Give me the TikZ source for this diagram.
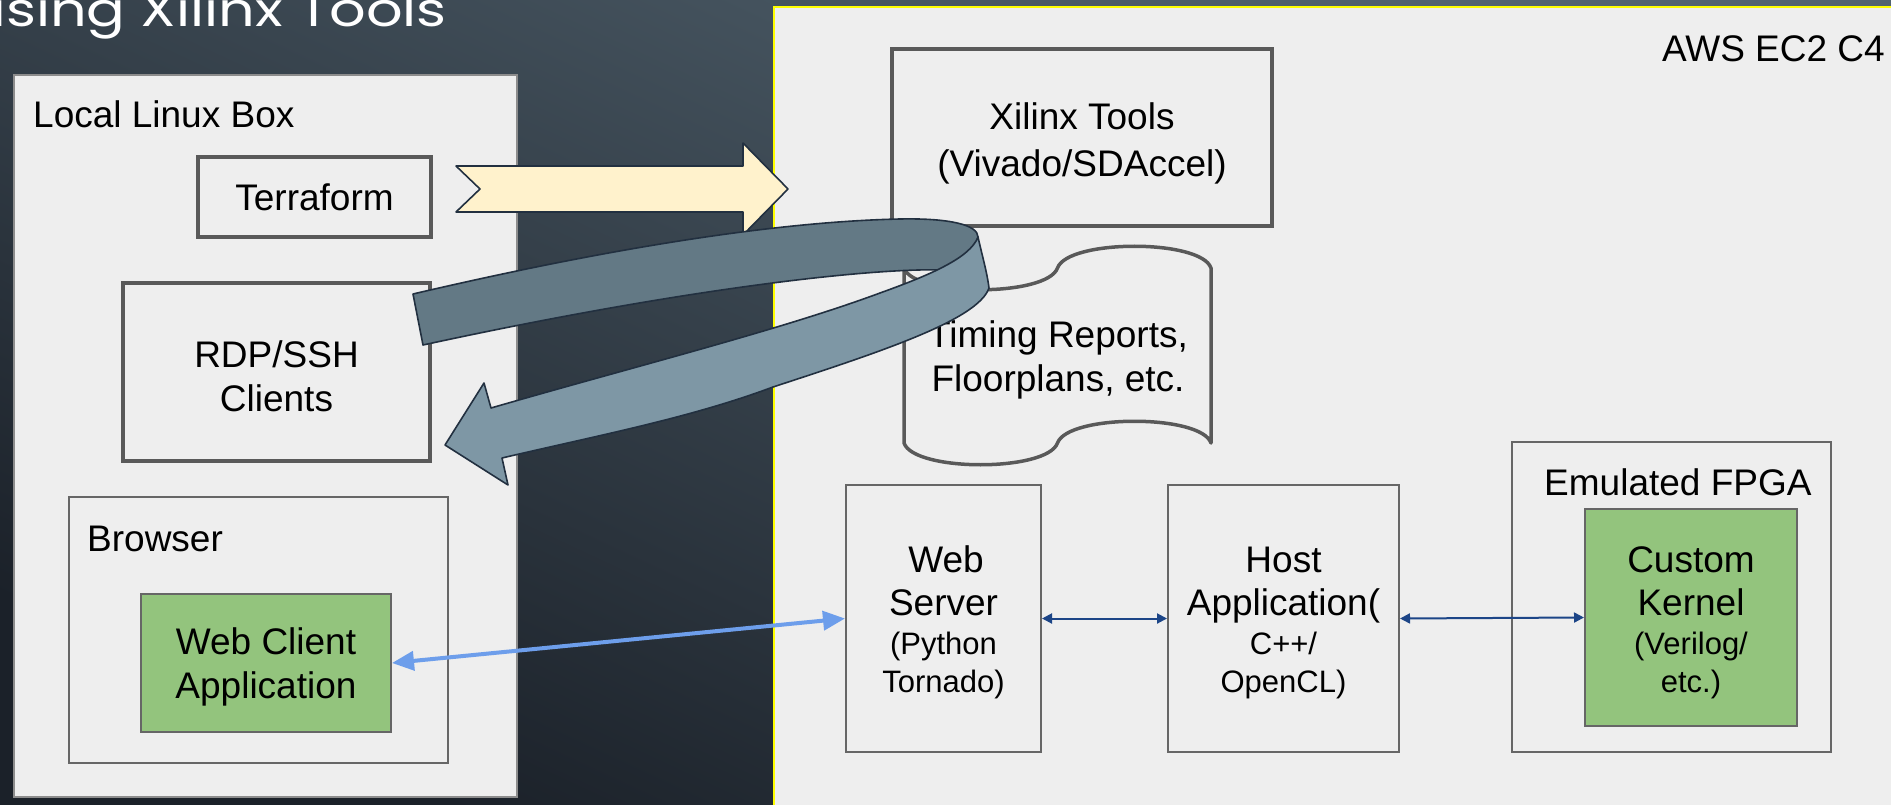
\documentclass[tikz,border=0pt]{standalone}
\usepackage{fontspec}
\setmainfont{Liberation Sans}
\newfontfamily\titlefont{Poppins}[FakeStretch=1.22]
\usetikzlibrary{arrows.meta}
\definecolor{bgtop}{HTML}{52636F}
\definecolor{bgbot}{HTML}{1B2129}
\definecolor{panel}{HTML}{EEEEEE}
\definecolor{bordgray}{HTML}{595959}
\definecolor{thingray}{HTML}{666666}
\definecolor{outergray}{HTML}{8C8C8C}
\definecolor{yel}{HTML}{FFFF00}
\definecolor{greenfill}{HTML}{93C47D}
\definecolor{cream}{HTML}{FFF2CC}
\definecolor{arrowline}{HTML}{223040}
\definecolor{banddark}{HTML}{637985}
\definecolor{bandlight}{HTML}{7E97A5}
\definecolor{linkblue}{HTML}{6D9EEB}
\definecolor{navy}{HTML}{1C4587}
\begin{document}
\begin{tikzpicture}[x=1pt,y=-1pt,
  lbl/.style={font=\fontsize{37}{44}\selectfont, inner sep=0pt, text=black},
  sml/.style={font=\fontsize{31}{38}\selectfont, inner sep=0pt, text=black},
  outerbx/.style={draw=outergray, line width=2pt, fill=panel, inner sep=0pt},
  toolbx/.style={draw=bordgray, line width=3.5pt, fill=panel, inner sep=0pt},
  thinbx/.style={draw=thingray, line width=2pt, fill=panel, inner sep=0pt},
  greenbx/.style={draw=thingray, line width=2pt, fill=greenfill, inner sep=0pt},
  bluelink/.style={draw=linkblue, line width=4pt, {Triangle[length=22pt,width=19pt]}-{Triangle[length=22pt,width=19pt]}},
  navylink/.style={draw=navy, line width=2pt, {Triangle[length=10pt,width=10pt]}-{Triangle[length=10pt,width=10pt]}},
  bandline/.style={draw=arrowline, line width=1.6pt, line join=round}
]
\useasboundingbox (0,0) rectangle (1891,805);
\shade[shading=axis, top color=bgtop, bottom color=bgbot, shading angle=-25] (0,0) rectangle (1891,805);

% title
\node[anchor=base east, inner sep=0pt, text=white, font=\titlefont\fontsize{47}{52}\selectfont] (title) at (447,27) {using Xilinx Tools};

% panels
\node[outerbx, minimum width=503pt, minimum height=722pt] (llb) at (265.5,436) {};
\node[draw=yel, line width=2pt, fill=panel, inner sep=0pt, minimum width=1126pt, minimum height=808pt] (aws) at (1337,411) {};

\node[lbl, anchor=base west] (llbT) at (33,128) {Local Linux Box};
\node[lbl, anchor=base east] (awsT) at (1885,62) {AWS EC2 C4};

% left boxes
\node[toolbx, minimum width=233pt, minimum height=80pt] (tf) at (314.5,197) {};
\node[lbl, anchor=base] (tfT) at (314.5,211) {Terraform};
\node[toolbx, minimum width=307pt, minimum height=178pt] (rdp) at (276.5,372) {};
\node[lbl, anchor=base] (rdpT1) at (276.5,367) {RDP/SSH};
\node[lbl, anchor=base] (rdpT2) at (276.5,411) {Clients};
\node[thinbx, minimum width=379pt, minimum height=266pt] (br) at (258.5,630) {};
\node[lbl, anchor=base west] (brT) at (87,551) {Browser};
\node[greenbx, minimum width=250pt, minimum height=138pt] (wca) at (266,663) {};
\node[lbl, anchor=base] (wcaT1) at (266,654) {Web Client};
\node[lbl, anchor=base] (wcaT2) at (266,698) {Application};

% right boxes
\node[toolbx, minimum width=380pt, minimum height=177pt] (xt) at (1082,137.5) {};
\node[lbl, anchor=base] (xtT1) at (1082,130) {Xilinx Tools};
\node[lbl, anchor=base] (xtT2) at (1082,177) {(Vivado/SDAccel)};

% punched tape shape
\draw[draw=bordgray, line width=3.5pt, fill=panel, line join=round] (904,268)
  .. controls (914,297) and (1047,297) .. (1057.5,268)
  .. controls (1068,239) and (1201,239) .. (1211,268)
  -- (1211,443)
  .. controls (1201,414) and (1068,414) .. (1057.5,443)
  .. controls (1047,472) and (914,472) .. (904,443) -- cycle;
\node[lbl, anchor=base] (trT1) at (1058,347) {Timing Reports,};
\node[lbl, anchor=base] (trT2) at (1058,391) {Floorplans, etc.};

\node[thinbx, minimum width=195pt, minimum height=267pt] (ws) at (943.5,618.5) {};
\node[lbl, anchor=base] (wsT1) at (946,572) {Web};
\node[lbl, anchor=base] (wsT2) at (943.5,615) {Server};
\node[sml, anchor=base] (wsT3) at (943.5,654) {(Python};
\node[sml, anchor=base] (wsT4) at (943.5,692) {Tornado)};

\node[thinbx, minimum width=231pt, minimum height=267pt] (host) at (1283.5,618.5) {};
\node[lbl, anchor=base] (hostT1) at (1283.5,572) {Host};
\node[lbl, anchor=base] (hostT2) at (1283.5,615) {Application(};
\node[sml, anchor=base] (hostT3) at (1283.5,654) {C++/};
\node[sml, anchor=base] (hostT4) at (1283.5,692) {OpenCL)};

\node[thinbx, minimum width=319pt, minimum height=310pt] (fpga) at (1671.5,597) {};
\node[lbl, anchor=base west] (fpgaT) at (1544,495) {Emulated FPGA};
\node[greenbx, minimum width=212pt, minimum height=217pt] (ck) at (1691,617.5) {};
\node[lbl, anchor=base] (ckT1) at (1691,572) {Custom};
\node[lbl, anchor=base] (ckT2) at (1691,615) {Kernel};
\node[sml, anchor=base] (ckT3) at (1691,654) {(Verilog/};
\node[sml, anchor=base] (ckT4) at (1691,692) {etc.)};

% connectors
\draw[bluelink] (wca.east) -- (ws.west);
\draw[navylink] (ws.east) -- (host.west);
\draw[navylink] (host.east) -- (ck.west);

% yellow notched arrow
\draw[fill=cream, bandline] (456,166) -- (743,166) -- (743,143) -- (788,189) -- (743,235) -- (743,212) -- (456,212) -- (480,189) -- cycle;

% curved U-turn arrow: dark upper band
\draw[fill=banddark, bandline] (413,294)
  .. controls (580,255) and (760,222) .. (900,219)
  .. controls (950,218) and (978,225) .. (978,237)
  .. controls (975,252) and (958,263) .. (940,270)
  .. controls (880,268) and (700,285) .. (423,345) -- cycle;
% light lower band with head
\draw[fill=bandlight, bandline] (978,237)
  .. controls (982,255) and (987,272) .. (989,288)
  .. controls (978,320) and (880,352) .. (773,387)
  .. controls (690,418) and (600,435) .. (502,458)
  -- (508,485) -- (445,445) -- (484,383) -- (491,408)
  .. controls (640,365) and (780,330) .. (880,293)
  .. controls (930,275) and (970,258) .. (978,237) -- cycle;
\end{tikzpicture}
\end{document}
